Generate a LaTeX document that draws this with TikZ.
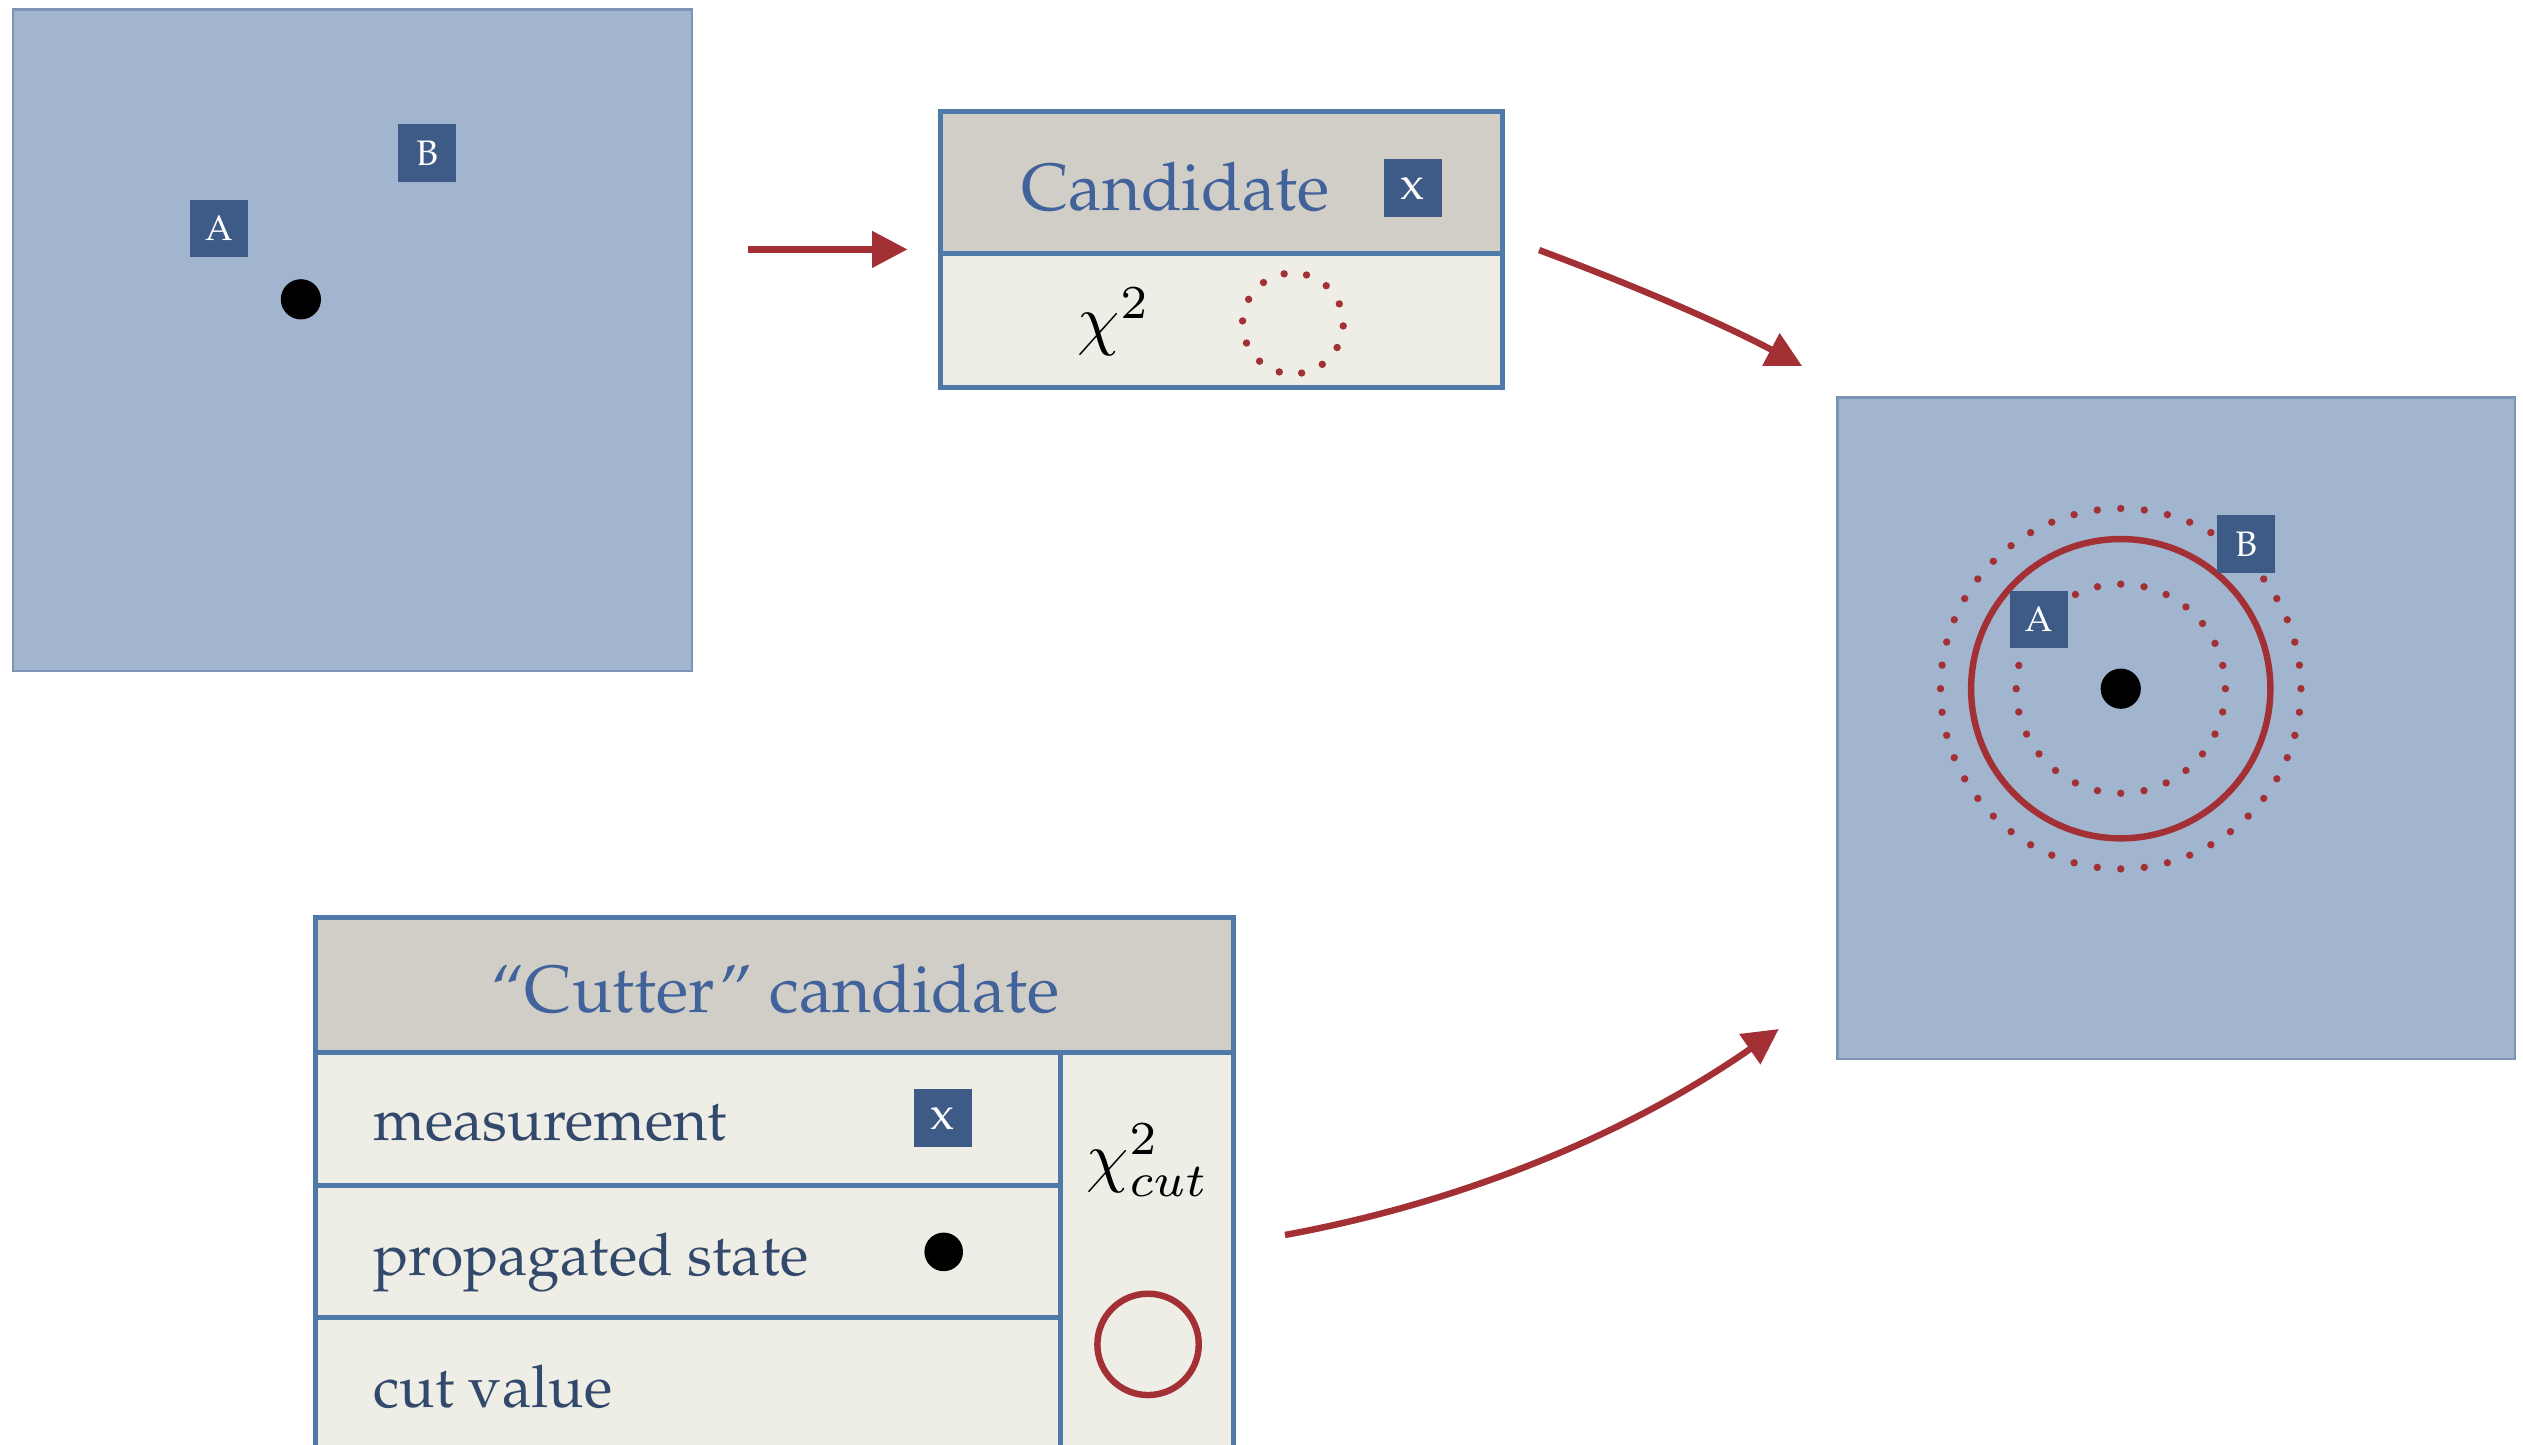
\RequirePackage{fix-cm}
\documentclass[tikz,border=0pt]{standalone}
\usepackage[T1,TU]{fontenc}
\usepackage{graphicx}
\usetikzlibrary{arrows.meta}
\newcommand\pal{\fontencoding{T1}\fontfamily{ppl}\selectfont}
\newcommand\bigmath[1]{\scalebox{4.2}{\fontsize{10}{12}\selectfont$#1$}}
\definecolor{panelfill}{HTML}{A2B5CF}
\definecolor{panelline}{HTML}{7D93B3}
\definecolor{tagblue}{HTML}{3E5B87}
\definecolor{cutred}{HTML}{A33035}
\definecolor{headgray}{HTML}{D1CEC7}
\definecolor{cellfill}{HTML}{EFEEE6}
\definecolor{frameblue}{HTML}{4F79A8}
\definecolor{headtext}{HTML}{41629A}
\definecolor{rowtext}{HTML}{33496C}
\tikzset{
  panel/.style={rectangle, fill=panelfill, draw=panelline, line width=1.5pt, inner sep=0pt},
  tag/.style={rectangle, fill=tagblue, minimum size=36pt, inner sep=0pt, text=white,
              font=\pal\fontsize{22}{24}\selectfont},
  xtag/.style={tag, font=\pal\fontsize{29}{30}\selectfont},
  statedot/.style={circle, fill=black, minimum size=25pt, inner sep=0pt},
  headcell/.style={rectangle, fill=headgray, draw=frameblue, line width=3pt, inner sep=0pt},
  bodycell/.style={rectangle, fill=cellfill, draw=frameblue, line width=3pt, inner sep=0pt},
  headlabel/.style={text=headtext, inner sep=0pt, font=\pal\fontsize{41.5}{48}\selectfont},
  rowlabel/.style={text=rowtext, inner sep=0pt, font=\pal\fontsize{36.5}{42}\selectfont},
  mathlabel/.style={inner sep=0pt},
  flow/.style={draw=cutred, line width=4pt, -{Triangle[length=22pt,width=22pt]}},
  region/.style={draw=cutred, line width=4pt}
}
% ring of small dots: centre x, centre y, radius, count, start angle
\newcommand\dotring[5]{%
  \pgfmathsetmacro\ringstep{360/#4}%
  \foreach \k in {1,...,#4}
    \fill[cutred] ({#1+#3*cos(#5+\k*\ringstep)},{#2+#3*sin(#5+\k*\ringstep)}) circle[radius=2.3pt];}
\begin{document}
\begin{tikzpicture}[x=1pt,y=-1pt]
\useasboundingbox (0,0) rectangle (1568,898);
\clip (0,0) rectangle (1568,898);

% ---- detector view before the cut ----
\node[panel, minimum width=422pt, minimum height=411pt] (leftpanel) at (219,211.5) {};
\node[tag] (lefta) at (136,142) {A};
\node[tag] (leftb) at (265.5,95) {B};
\node[statedot] (leftdot) at (187,186) {};

% ---- candidate record ----
\node[headcell, minimum width=349.5pt, minimum height=88pt] (candhead) at (759.25,113.5) {};
\node[bodycell, minimum width=349.5pt, minimum height=83.5pt] (candbody) at (759.25,199.25) {};
\node[headlabel, anchor=base] (candtitle) at (730.5,131) {Candidate};
\node[xtag] (candx) at (878,117) {x};
\node[mathlabel] (candchi) at (692.5,200) {\bigmath{\chi^2}};
\dotring{803.5}{201}{31.3}{14}{80}

% ---- cutter candidate table ----
\node[headcell, minimum width=570.5pt, minimum height=84pt] (cuthead) at (481.25,612) {};
\node[bodycell, minimum width=463pt, minimum height=82.5pt] (rowmeas) at (427.5,695.25) {};
\node[bodycell, minimum width=463pt, minimum height=82pt] (rowprop) at (427.5,777.5) {};
\node[bodycell, minimum width=463pt, minimum height=82.5pt] (rowcut) at (427.5,860) {};
\node[bodycell, minimum width=107.5pt, minimum height=247pt] (chicol) at (712.75,777.5) {};
\node[headlabel, anchor=base] (cuttitle) at (482,629) {``Cutter'' candidate};
\node[rowlabel, anchor=base west] (measlabel) at (232,708.5) {measurement};
\node[rowlabel, anchor=base west] (proplabel) at (232,792.5) {propagated state};
\node[rowlabel, anchor=base west] (cutlabel) at (232,874.8) {cut value};
\node[xtag] (measx) at (586,695) {x};
\node[statedot, minimum size=24pt] (propdot) at (586.5,778) {};
\node[mathlabel] (chicut) at (713.5,721) {\bigmath{\chi^2_{cut}}};
\draw[region] (713.5,835.5) circle[radius=31.5pt];

% ---- detector view with the cut regions ----
\node[panel, minimum width=421pt, minimum height=411pt] (rightpanel) at (1352.5,452.5) {};
\dotring{1318}{428}{112}{48}{0}
\dotring{1318}{428}{65}{28}{0}
\draw[region] (1318,428) circle[radius=93pt];
\node[tag] (righta) at (1267,385) {A};
\node[tag] (rightb) at (1396,338) {B};
\node[statedot] (rightdot) at (1318,428) {};

% ---- flow arrows ----
\coordinate (flowAs) at (465,155);
\coordinate (flowAe) at (564,155);
\coordinate (flowBs) at (956.5,155.4);
\coordinate (flowBe) at (1120,227.5);
\coordinate (flowCs) at (798.6,767.5);
\coordinate (flowCe) at (1105.5,639.5);
\draw[flow] (flowAs) -- (flowAe);
\draw[flow] (flowBs) .. controls (1012.4,176.2) and (1068.9,200.3) .. (flowBe);
\draw[flow] (flowCs) .. controls (910.1,747) and (1012.4,704.4) .. (flowCe);
\end{tikzpicture}
\end{document}
